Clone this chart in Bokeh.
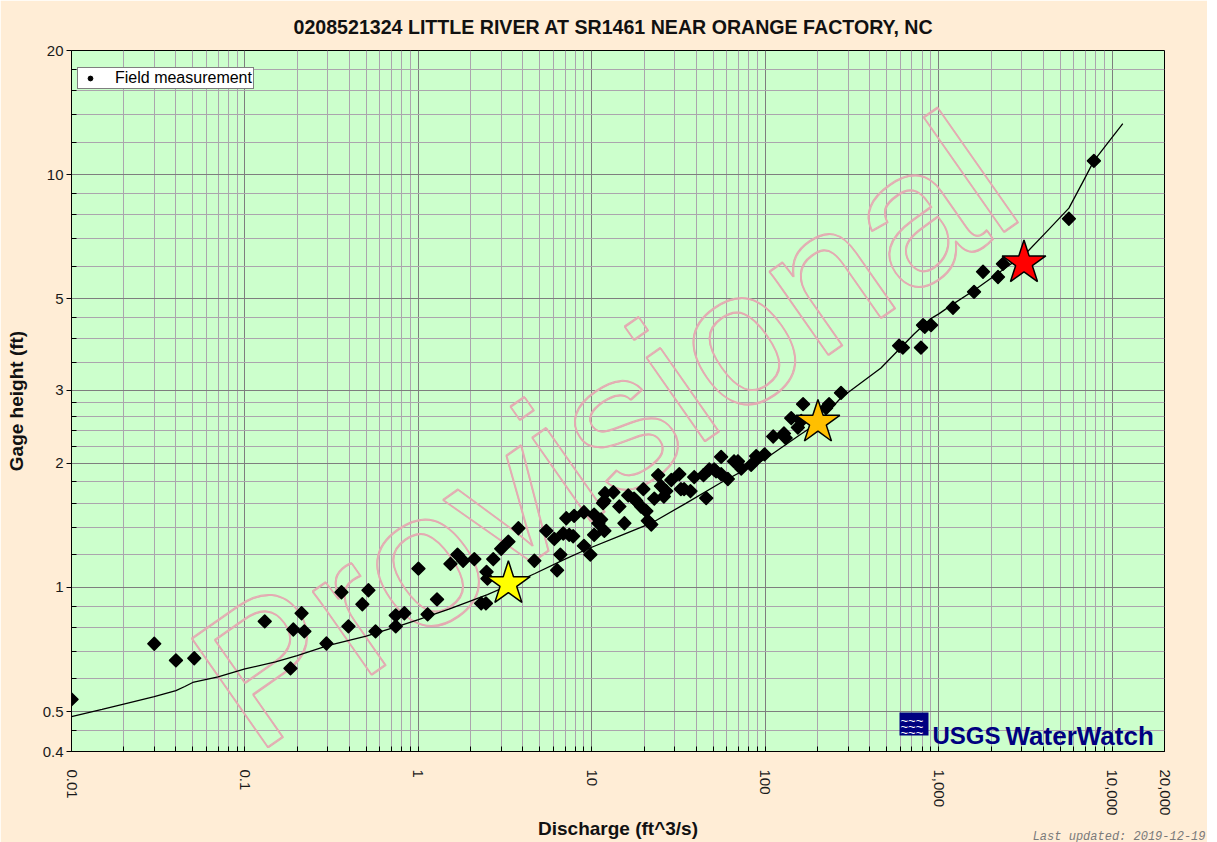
import math
from bokeh.plotting import figure
from bokeh.models import (Range1d, FixedTicker, CustomJSTickFormatter, Label,
                          BoxAnnotation, Legend, LegendItem, Title)
from bokeh.embed import file_html
from bokeh.resources import INLINE

# ---------------- data ----------------
TITLE = "0208521324 LITTLE RIVER AT SR1461 NEAR ORANGE FACTORY, NC"
X_LABEL = "Discharge (ft^3/s)"
Y_LABEL = "Gage height (ft)"
LEGEND_LABEL = "Field measurement"
WATERMARK = "Provisional"
UPDATED = "Last updated: 2019-12-19"

x_ticks = [0.01, 0.1, 1, 10, 100, 1000, 10000, 20000]
x_tick_labels = ["0.01", "0.1", "1", "10", "100", "1,000", "10,000", "20,000"]
x_minor = [m * 10.0 ** e for e in range(-2, 4) for m in range(2, 10)]

y_ticks = [0.4, 0.5, 1, 2, 3, 5, 10, 20]
y_tick_labels = ["0.4", "0.5", "1", "2", "3", "5", "10", "20"]
y_minor = [0.45, 0.6, 0.7, 0.8, 0.9, 1.2, 1.4, 1.6, 1.8, 2.2, 2.4, 2.6, 2.8,
           3.5, 4, 4.5, 6, 7, 8, 9, 12, 14, 16, 18]

# field measurements: discharge (ft^3/s), gage height (ft)
meas_q = [0.01, 0.030, 0.040, 0.051, 0.130, 0.183, 0.19, 0.212, 0.22, 0.295,
          0.36, 0.395, 0.475, 0.515, 0.566, 0.74, 0.74, 0.83, 1.0, 1.13,
          1.28, 1.53, 1.68, 1.81, 2.1, 2.3, 2.45, 2.47, 2.5, 2.7,
          3.0, 3.3, 3.77, 4.66, 5.46, 6.07, 6.3, 6.58, 6.84, 7.12,
          7.4, 7.8, 7.9, 9.0, 9.0, 9.8, 10.3, 10.3, 10.9, 11.3,
          11.6, 11.8, 11.8, 11.9, 13.3, 14.4, 15.4, 16.2, 17.5, 18.0,
          19.2, 19.8, 20.6, 21.0, 22.0, 22.9, 24.1, 25.0, 26.0, 26.8,
          28.7, 31.9, 32.6, 34.0, 37.0, 38.9, 44.0, 45.6, 47.5, 50.7,
          52.0, 55.6, 55.6, 60.8, 66.0, 69.5, 72.6, 82.8, 88.5, 90.8,
          99.0, 111, 128, 131, 141, 154, 161, 165, 224, 233,
          273, 590, 620, 789, 811, 830, 902, 1207, 1596, 1798,
          2194, 2343, 5623, 7834]
meas_gh = [0.535, 0.73, 0.665, 0.673, 0.827, 0.636, 0.79, 0.865, 0.782, 0.731,
           0.973, 0.804, 0.91, 0.984, 0.782, 0.855, 0.804, 0.865, 1.11, 0.86,
           0.935, 1.14, 1.20, 1.16, 1.17, 0.914, 0.914, 1.09, 1.05, 1.17,
           1.24, 1.29, 1.39, 1.16, 1.37, 1.31, 1.10, 1.20, 1.35, 1.47,
           1.34, 1.33, 1.49, 1.52, 1.26, 1.20, 1.34, 1.50, 1.43, 1.46,
           1.60, 1.62, 1.37, 1.69, 1.70, 1.57, 1.43, 1.67, 1.64, 1.62,
           1.57, 1.73, 1.53, 1.45, 1.42, 1.64, 1.87, 1.76, 1.66, 1.71,
           1.82, 1.88, 1.73, 1.73, 1.71, 1.85, 1.87, 1.645, 1.93, 1.93,
           1.91, 1.88, 2.07, 1.83, 2.02, 2.02, 1.94, 1.98, 2.08, 2.06,
           2.10, 2.32, 2.36, 2.30, 2.57, 2.44, 2.53, 2.78, 2.72, 2.78,
           2.96, 3.85, 3.81, 3.81, 4.32, 4.28, 4.32, 4.76, 5.2, 5.82,
           5.65, 6.08, 7.82, 10.8]

# rating curve
curve_q = [0.01, 0.015, 0.02, 0.03, 0.04, 0.045, 0.05, 0.07, 0.1, 0.15, 0.2,
           0.3, 0.5, 0.8, 1.0, 1.5, 2.5, 3.3, 4.7, 7, 9.5, 15, 22, 35, 55,
           100, 160, 200, 273, 464, 720, 900, 1000, 1200, 1600, 2300, 3200,
           4200, 5623, 6700, 7834, 9500, 11500]
curve_gh = [0.486, 0.506, 0.521, 0.543, 0.562, 0.575, 0.588, 0.607, 0.634,
            0.660, 0.683, 0.722, 0.762, 0.810, 0.835, 0.885, 0.960, 1.01,
            1.08, 1.17, 1.24, 1.34, 1.43, 1.60, 1.79, 2.05, 2.35, 2.50,
            2.88, 3.40, 4.11, 4.48, 4.60, 4.85, 5.25, 5.85, 6.47,
            7.29, 8.30, 9.53, 10.8, 12.0, 13.3]

# highlighted stage markers
star_q = [3.3, 201, 3097]
star_gh = [1.02, 2.51, 6.11]
star_colors = ["#FFFF00", "#FFBF00", "#FF0000"]

# ---------------- style ----------------
PAGE_BG = "#FFEDD6"
PLOT_BG = "#CCFFCC"
MINOR_GRID = "#ABA5AD"
MAJOR_GRID = "#7E7E7E"
FONT = "Liberation Sans"

p = figure(width=1207, height=842, x_axis_type="log", y_axis_type="log",
           x_range=Range1d(0.01, 20000), y_range=Range1d(0.4, 20),
           output_backend="svg", toolbar_location=None,
           min_border_left=71, min_border_right=43, min_border_top=48,
           min_border_bottom=91,
           background_fill_color=PLOT_BG, border_fill_color=PAGE_BG,
           outline_line_color="black", outline_line_width=1)

p.title.text = TITLE
p.title.align = "left"
p.title.offset = 222
p.title.text_font = FONT
p.title.text_font_size = "19.6px"
p.title.text_font_style = "bold"
p.title.text_color = "#111111"
p.title.standoff = 26

xt = FixedTicker(ticks=x_ticks, minor_ticks=x_minor)
yt = FixedTicker(ticks=y_ticks, minor_ticks=y_minor)
p.xaxis.ticker = xt
p.yaxis.ticker = yt
p.xgrid.ticker = xt
p.ygrid.ticker = yt

fmt_code = """
const i = vals.findIndex(v => Math.abs(Math.log10(v) - Math.log10(tick)) < 1e-6);
return i >= 0 ? labs[i] : "";
"""
p.xaxis.formatter = CustomJSTickFormatter(args=dict(vals=x_ticks, labs=x_tick_labels), code=fmt_code)
p.yaxis.formatter = CustomJSTickFormatter(args=dict(vals=y_ticks, labs=y_tick_labels), code=fmt_code)

for g in (p.xgrid, p.ygrid):
    g.grid_line_color = MAJOR_GRID
    g.grid_line_width = 1
    g.minor_grid_line_color = MINOR_GRID
    g.minor_grid_line_width = 1

for ax in (p.xaxis, p.yaxis):
    ax.axis_line_color = "black"
    ax.major_tick_line_color = "black"
    ax.minor_tick_line_color = "black"
    ax.major_label_text_font = FONT
    ax.major_label_text_color = "#1A1A1A"
    ax.axis_label_text_font = FONT
    ax.axis_label_text_font_size = "19px"
    ax.axis_label_text_font_style = "bold"
    ax.axis_label_text_color = "#111111"

p.xaxis.axis_label = X_LABEL
p.yaxis.axis_label = Y_LABEL
p.xaxis.major_label_text_font_size = "15px"
p.yaxis.major_label_text_font_size = "15px"
p.xaxis.major_label_orientation = "vertical"
p.xaxis.major_tick_in = 5
p.xaxis.major_tick_out = 0
p.xaxis.minor_tick_in = 5
p.xaxis.minor_tick_out = 0
p.xaxis.major_label_standoff = 18
p.xaxis.axis_label_standoff = 0
p.yaxis.major_tick_in = 0
p.yaxis.major_tick_out = 5
p.yaxis.minor_tick_in = 5
p.yaxis.minor_tick_out = 0
p.yaxis.major_label_standoff = 3
p.yaxis.axis_label_standoff = 13

# watermark (hollow pink letters, stroked a few times for a thicker outline)
for dx, dy in [(0, 0), (1, 0), (0, 1)]:
    wm = Label(x=0.0684, y=0.528, text=WATERMARK, angle=35, angle_units="deg",
               x_offset=dx, y_offset=dy,
               text_font=FONT, text_font_size="193px", text_align="left",
               text_baseline="alphabetic", level="underlay")
    try:
        wm.text_color = "rgba(0,0,0,0)"
        wm.text_outline_color = "#E4AAB2"
    except Exception:
        wm.text_color = "#E4AAB2"
        wm.text_alpha = 0.3
    p.add_layout(wm)

# rating curve
p.line(curve_q, curve_gh, line_color="black", line_width=1.3)

# field measurements
p.scatter(meas_q, meas_gh, marker="square", angle=math.pi / 4, size=9,
          fill_color="black", line_color="black", line_width=1.6,
          line_join="round")

# legend proxy (round dot, not drawn in the frame)
leg_r = p.scatter([float("nan")], [float("nan")], marker="circle", size=9,
                  fill_color="black", line_color="black")

# stars
p.scatter(star_q, star_gh, marker="star", size=46, fill_color=star_colors,
          line_color="black", line_width=1.5)

legend = Legend(items=[LegendItem(label=LEGEND_LABEL, renderers=[leg_r])],
                location=(6, 662), orientation="vertical")
legend.margin = 0
legend.padding = 1
legend.spacing = 0
legend.glyph_width = 22
legend.glyph_height = 12
legend.label_standoff = 14
legend.label_height = 12
legend.label_text_font = FONT
legend.label_text_font_size = "16px"
legend.label_text_color = "black"
legend.border_line_color = "black"
legend.border_line_width = 1
legend.background_fill_color = "white"
legend.background_fill_alpha = 1.0
p.add_layout(legend)

# USGS WaterWatch logo
logo_box = BoxAnnotation(left=828, right=857, bottom=16, top=39,
                         left_units="screen", right_units="screen",
                         bottom_units="screen", top_units="screen",
                         fill_color="#000080", fill_alpha=1.0, line_color=None,
                         level="overlay")
p.add_layout(logo_box)
for k in range(3):
    p.add_layout(Label(x=829, y=19 + 6 * k, x_units="screen", y_units="screen",
                       text="~~~", text_font=FONT, text_font_size="13px",
                       text_color="white", text_baseline="middle",
                       level="overlay"))
p.add_layout(Label(x=861, y=16, x_units="screen", y_units="screen", text="USGS",
                   text_font=FONT, text_font_size="24px", text_font_style="bold",
                   text_color="#000080", text_baseline="alphabetic"))
p.add_layout(Label(x=934, y=16, x_units="screen", y_units="screen", text="WaterWatch",
                   text_font=FONT, text_font_size="26px", text_font_style="bold",
                   text_color="#000080", text_baseline="alphabetic"))

# last updated note (zero-height title row, drawn over the bottom margin)
note = Title(text=UPDATED, align="right", offset=-41, standoff=-26,
             vertical_align="top",
             text_font="'Liberation Mono', 'DejaVu Sans Mono', monospace",
             text_font_size="12px", text_font_style="italic",
             text_color="#7A7A7A")
p.add_layout(note, "below")

open("out.html", "w").write(file_html(p, INLINE))
